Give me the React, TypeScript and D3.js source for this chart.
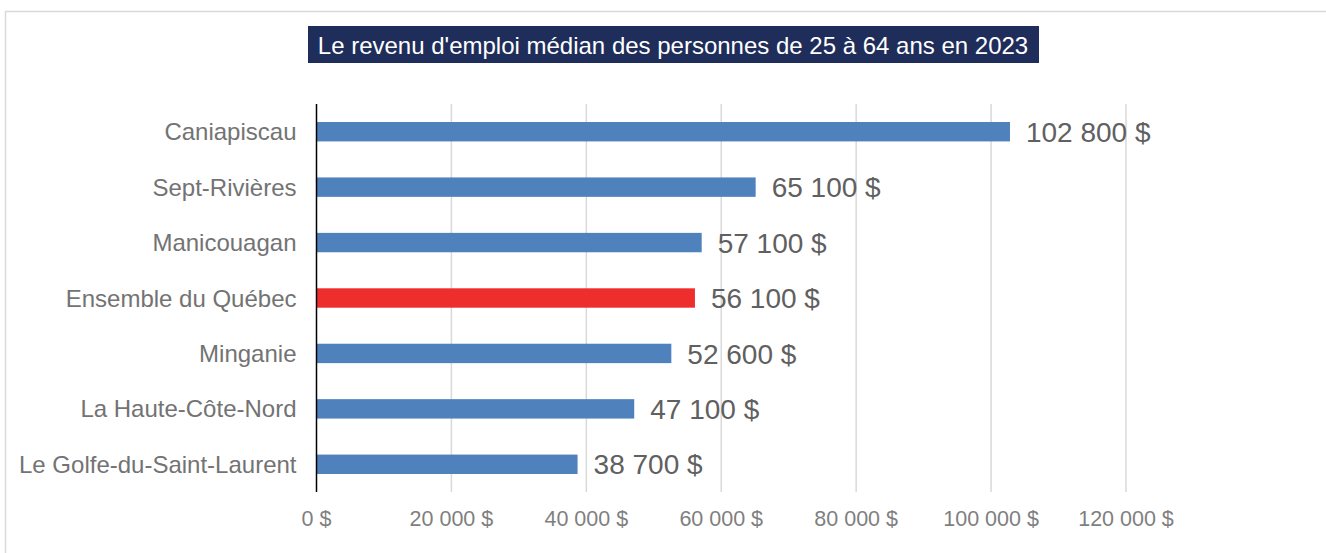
import React, { useEffect, useRef } from 'react';
import * as d3 from 'd3';

const regions = [
  'Caniapiscau',
  'Sept-Rivières',
  'Manicouagan',
  'Ensemble du Québec',
  'Minganie',
  'La Haute-Côte-Nord',
  'Le Golfe-du-Saint-Laurent',
];
const revenus = [102800, 65100, 57100, 56100, 52600, 47100, 38700];
const highlighted = ['Ensemble du Québec'];
const xTicks = [0, 20000, 40000, 60000, 80000, 100000, 120000];
const title = "Le revenu d'emploi médian des personnes de 25 à 64 ans en 2023";

const W = 1326;
const H = 553;

const fmt = (v: number) => d3.format(',')(v).replace(/,/g, ' ') + ' $';

export default function App() {
  const svgRef = useRef<SVGSVGElement>(null);

  useEffect(() => {
    if (!svgRef.current) return;
    const svg = d3.select(svgRef.current);
    svg.selectAll('*').remove();

    const font = '"Liberation Sans", Arial, sans-serif';
    const margin = { top: 104, left: 316.5, bottom: 492 };

    // card
    svg.append('rect')
      .attr('x', 5.5)
      .attr('y', 11.5)
      .attr('width', W + 20)
      .attr('height', H)
      .attr('fill', '#fff')
      .attr('stroke', '#d9d9d9')
      .attr('stroke-width', 1.5);

    const x = d3.scaleLinear().domain([0, 120000]).range([margin.left, 1126]);
    const y = d3.scaleBand().domain(regions).range([margin.top, margin.bottom]).paddingInner(0.65).paddingOuter(0.325);

    // gridlines
    svg.append('g')
      .selectAll('line')
      .data(xTicks.slice(1))
      .join('line')
      .attr('x1', d => x(d))
      .attr('x2', d => x(d))
      .attr('y1', margin.top)
      .attr('y2', margin.bottom)
      .attr('stroke', '#d9d9d9')
      .attr('stroke-width', 1.5);

    // bars
    svg.append('g')
      .selectAll('rect')
      .data(regions)
      .join('rect')
      .attr('x', x(0))
      .attr('y', d => y(d)!)
      .attr('width', (d, i) => x(revenus[i]) - x(0))
      .attr('height', y.bandwidth())
      .attr('fill', d => (highlighted.includes(d) ? '#EE2D2D' : '#4F81BD'));

    // zero axis
    svg.append('line')
      .attr('x1', x(0))
      .attr('x2', x(0))
      .attr('y1', margin.top)
      .attr('y2', margin.bottom)
      .attr('stroke', '#000')
      .attr('stroke-width', 1.5);

    // value labels
    svg.append('g')
      .selectAll('text')
      .data(regions)
      .join('text')
      .attr('x', (d, i) => x(revenus[i]) + 16)
      .attr('y', d => y(d)! + y.bandwidth() / 2)
      .attr('dy', '0.36em')
      .attr('font-family', font)
      .attr('font-size', 28)
      .attr('fill', '#606060')
      .text((d, i) => fmt(revenus[i]));

    // category labels
    svg.append('g')
      .selectAll('text')
      .data(regions)
      .join('text')
      .attr('x', x(0) - 20)
      .attr('y', d => y(d)! + y.bandwidth() / 2)
      .attr('dy', '0.36em')
      .attr('text-anchor', 'end')
      .attr('font-family', font)
      .attr('font-size', 24)
      .attr('fill', '#737373')
      .text(d => d);

    // x tick labels
    svg.append('g')
      .selectAll('text')
      .data(xTicks)
      .join('text')
      .attr('x', d => x(d))
      .attr('y', 518)
      .attr('dy', '0.36em')
      .attr('text-anchor', 'middle')
      .attr('font-family', font)
      .attr('font-size', 21.5)
      .attr('fill', '#7f7f7f')
      .text(d => fmt(d));

    // title
    svg.append('rect')
      .attr('x', 308)
      .attr('y', 26)
      .attr('width', 731)
      .attr('height', 37)
      .attr('fill', '#1F2D5A');
    svg.append('text')
      .attr('x', 673)
      .attr('y', 45)
      .attr('dy', '0.36em')
      .attr('text-anchor', 'middle')
      .attr('font-family', font)
      .attr('font-size', 24)
      .attr('fill', '#fff')
      .text(title);
  }, []);

  return (
    <svg
      ref={svgRef}
      width={W}
      height={H}
      style={{ position: 'absolute', left: 0, top: 0, background: '#fff' }}
    />
  );
}
